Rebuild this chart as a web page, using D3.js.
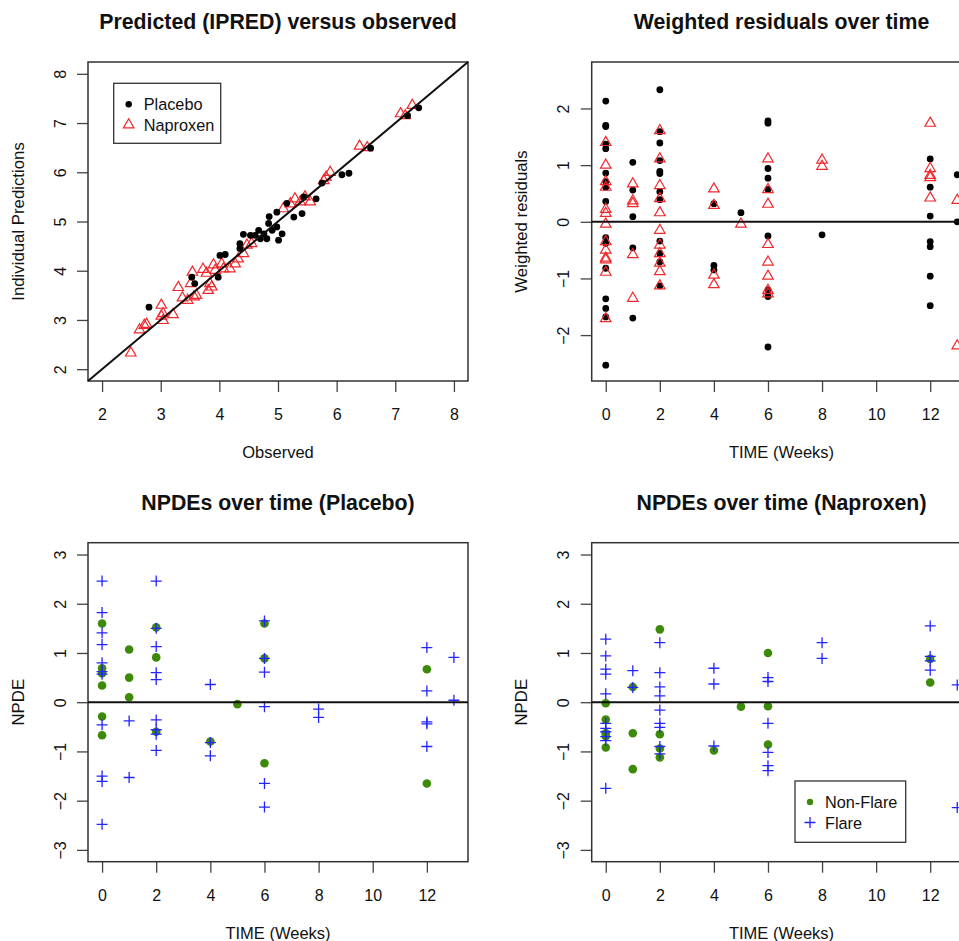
<!DOCTYPE html>
<html>
<head>
<meta charset="utf-8">
<script src="https://cdn.jsdelivr.net/npm/d3@7"></script>
<style>
  body { margin: 0; background: #fff; }
  text { font-family: "Liberation Sans", Arial, sans-serif; fill: #111; }
</style>
</head>
<body>
<svg id="chart" width="959" height="941"></svg>
<script>
// Panel 1: observed vs individual predictions
const placeboObs = [2.80, 3.53, 3.58, 3.98, 4.01, 4.10, 4.35, 4.41, 4.35, 4.61, 4.67, 4.76, 4.84, 4.85, 4.90, 4.98, 5.01, 5.07, 4.98, 4.70, 4.81, 4.53, 5.15, 5.27, 5.41, 5.44, 5.65, 5.75, 6.09, 6.21, 6.58, 7.21, 7.40];
const placeboIpred = [3.26, 3.87, 3.74, 3.87, 4.31, 4.33, 4.55, 4.74, 4.45, 4.72, 4.82, 4.75, 4.96, 5.10, 4.82, 4.89, 4.62, 4.75, 5.19, 4.65, 4.65, 4.72, 5.37, 5.09, 5.16, 5.50, 5.46, 5.78, 5.95, 5.98, 6.49, 7.15, 7.31];
const naproxenObs = [2.49, 2.64, 2.72, 2.76, 3.01, 3.01, 3.04, 3.04, 3.21, 3.30, 3.37, 3.46, 3.54, 3.51, 3.57, 3.61, 3.72, 3.78, 3.81, 3.84, 3.87, 3.90, 3.93, 4.04, 4.07, 4.18, 4.27, 4.32, 4.41, 4.47, 4.55, 5.09, 5.21, 5.29, 5.38, 5.46, 5.55, 5.78, 5.82, 5.89, 6.39, 6.52, 7.09, 7.17, 7.29];
const naproxenIpred = [2.33, 2.80, 2.89, 2.91, 3.30, 3.08, 2.99, 3.13, 3.11, 3.66, 3.45, 3.40, 3.97, 3.74, 3.47, 3.50, 4.03, 3.95, 3.60, 3.74, 3.67, 4.12, 4.01, 4.14, 4.04, 4.04, 4.14, 4.24, 4.35, 4.52, 4.55, 5.26, 5.36, 5.46, 5.40, 5.50, 5.40, 5.83, 5.90, 6.00, 6.53, 6.50, 7.19, 7.15, 7.36];

// Panel 2: weighted residuals over time
const wresPlaceboTime = [0, 0, 0, 0, 0, 0, 0, 0, 0, 0, 0, 0, 0, 0, 0, 0, 1, 1, 1, 1, 1, 2, 2, 2, 2, 2, 2, 2, 2, 2, 2, 2, 2, 4, 4, 4, 5, 6, 6, 6, 6, 6, 6, 6, 6, 6, 8, 12, 12, 12, 12, 12, 12, 12, 13, 13];
const wresPlacebo = [2.13, 1.70, 1.68, 1.37, 1.29, 0.86, 0.71, 0.61, 0.36, -0.28, -0.38, -0.82, -1.36, -1.53, -1.68, -2.53, 1.05, 0.56, 0.09, -0.46, -1.70, 2.33, 1.59, 1.39, 1.08, 0.89, 0.85, 0.53, 0.39, -0.34, -0.56, -0.71, -1.13, 0.32, -0.77, -0.85, 0.16, 1.78, 1.74, 0.94, 0.77, 0.57, -0.25, -1.20, -1.32, -2.21, -0.23, 1.11, 0.61, 0.10, -0.35, -0.44, -0.96, -1.48, 0.83, 0.00];
const wresNaproxenTime = [0, 0, 0, 0, 0, 0, 0, 0, 0, 0, 0, 0, 0, 1, 1, 1, 1, 1, 2, 2, 2, 2, 2, 2, 2, 2, 2, 2, 2, 4, 4, 4, 4, 5, 6, 6, 6, 6, 6, 6, 6, 6, 8, 8, 12, 12, 12, 12, 12, 13, 13];
const wresNaproxen = [1.40, 1.00, 0.71, 0.61, 0.22, 0.15, -0.04, -0.35, -0.50, -0.64, -0.67, -0.89, -1.71, 0.67, 0.37, 0.32, -0.58, -1.35, 1.61, 1.11, 0.64, 0.41, 0.16, -0.15, -0.41, -0.56, -0.73, -0.88, -1.13, 0.58, 0.29, -0.94, -1.11, -0.04, 1.11, 0.57, 0.31, -0.40, -0.71, -0.96, -1.21, -1.27, 1.09, 0.98, 1.74, 0.94, 0.82, 0.78, 0.42, 0.38, -2.19];

// Panel 3: NPDE placebo
const npdePlaceboNonFlareTime = [0, 0, 0, 0, 0, 0, 1, 1, 1, 2, 2, 2, 4, 5, 6, 6, 6, 12, 12];
const npdePlaceboNonFlare = [1.60, 0.69, 0.59, 0.34, -0.29, -0.67, 1.07, 0.50, 0.10, 1.52, 0.91, -0.60, -0.80, -0.04, 1.60, 0.89, -1.24, 0.67, -1.65];
const npdePlaceboFlareTime = [0, 0, 0, 0, 0, 0, 0, 0, 0, 0, 0, 1, 1, 2, 2, 2, 2, 2, 2, 2, 2, 2, 4, 4, 4, 6, 6, 6, 6, 6, 6, 8, 8, 12, 12, 12, 12, 12, 13, 13];
const npdePlaceboFlare = [2.46, 1.82, 1.41, 1.17, 0.80, 0.62, 0.57, -0.46, -1.50, -1.61, -2.48, -0.38, -1.53, 2.46, 1.50, 1.13, 0.60, 0.46, -0.36, -0.56, -0.65, -0.98, 0.36, -0.82, -1.09, 1.65, 0.89, 0.61, -0.09, -1.65, -2.13, -0.14, -0.31, 1.11, 0.23, -0.40, -0.44, -0.90, 0.91, 0.04];

// Panel 4: NPDE naproxen
const npdeNaproxenNonFlareTime = [0, 0, 0, 0, 0, 1, 1, 1, 2, 2, 2, 2, 4, 5, 6, 6, 6, 12, 12];
const npdeNaproxenNonFlare = [-0.02, -0.35, -0.63, -0.69, -0.92, 0.31, -0.63, -1.36, 1.48, -0.65, -0.94, -1.12, -0.98, -0.09, 1.00, -0.08, -0.86, 0.88, 0.40];
const npdeNaproxenFlareTime = [0, 0, 0, 0, 0, 0, 0, 0, 0, 0, 0, 1, 1, 2, 2, 2, 2, 2, 2, 2, 2, 2, 4, 4, 4, 6, 6, 6, 6, 6, 6, 8, 8, 12, 12, 12, 12, 13, 13];
const npdeNaproxenFlare = [1.28, 0.94, 0.67, 0.57, 0.17, -0.43, -0.53, -0.60, -0.70, -0.78, -1.75, 0.64, 0.30, 1.21, 0.60, 0.31, 0.13, -0.16, -0.43, -0.51, -0.90, -1.05, 0.69, 0.37, -0.89, 0.50, 0.42, -0.43, -1.02, -1.29, -1.39, 1.21, 0.89, 1.55, 0.93, 0.84, 0.65, 0.35, -2.14];

const timeTicks = [0, 2, 4, 6, 8, 10, 12];
const obsTicks = [2, 3, 4, 5, 6, 7, 8];
const wresTicks = [-2, -1, 0, 1, 2];
const npdeTicks = [-3, -2, -1, 0, 1, 2, 3];

const RED = '#f0282c';
const BLUE = '#2424ff';
const GREEN = '#3d8a08';

const svg = d3.select('#chart');

const zip = (xs, ys) => xs.map((x, i) => [x, ys[i]]);

const triangle = d3.symbol().type(d3.symbolTriangle).size(48);
const plusPath = 'M-5.5,0H5.5M0,-5.5V5.5';

/**
 * draws one R-style base graphics panel and returns its scales
 */
const createPanel = ({ left, top, width, height, xDomain, yDomain, xTicks, yTicks, title, xLabel, yLabel }) => {
    const g = svg.append('g').attr('transform', `translate(${left},${top})`);
    const x = d3.scaleLinear().domain(xDomain).range([0, width]);
    const y = d3.scaleLinear().domain(yDomain).range([height, 0]);

    const xAxis = g
        .append('g')
        .attr('transform', `translate(0,${height})`)
        .call(d3.axisBottom(x).tickValues(xTicks).tickFormat(d3.format('d')).tickSize(11).tickSizeOuter(0).tickPadding(17));
    const yAxis = g
        .append('g')
        .call(d3.axisLeft(y).tickValues(yTicks).tickFormat(d3.format('d')).tickSize(11).tickSizeOuter(0));

    [xAxis, yAxis].forEach((ax) => {
        ax.select('.domain').remove();
        ax.selectAll('line').attr('stroke', '#444').attr('stroke-width', 1.3);
        ax.selectAll('text').style('font-size', '16px').attr('fill', '#111');
    });
    yAxis
        .selectAll('text')
        .attr('x', null)
        .attr('dy', null)
        .attr('text-anchor', 'middle')
        .attr('dominant-baseline', 'central')
        .attr('transform', 'translate(-28,0) rotate(-90)');

    g.append('rect')
        .attr('width', width)
        .attr('height', height)
        .attr('fill', 'none')
        .attr('stroke', '#333')
        .attr('stroke-width', 1.5);

    svg.append('text')
        .attr('x', left + width / 2)
        .attr('y', top - 33)
        .attr('text-anchor', 'middle')
        .style('font-size', '21.3px')
        .style('font-weight', 'bold')
        .text(title);

    svg.append('text')
        .attr('x', left + width / 2)
        .attr('y', top + height + 77)
        .attr('text-anchor', 'middle')
        .style('font-size', '16.5px')
        .text(xLabel);

    svg.append('text')
        .attr('transform', `translate(${left - 70},${top + height / 2}) rotate(-90)`)
        .attr('text-anchor', 'middle')
        .attr('dominant-baseline', 'central')
        .style('font-size', '16.8px')
        .text(yLabel);

    const marks = g.append('g');
    return { g, marks, x, y, width };
};

const drawDots = (panel, pts, color, r) => {
    panel.marks
        .selectAll(null)
        .data(pts)
        .join('circle')
        .attr('cx', (d) => panel.x(d[0]))
        .attr('cy', (d) => panel.y(d[1]))
        .attr('r', r)
        .attr('fill', color);
};

const drawTriangles = (panel, pts) => {
    panel.marks
        .selectAll(null)
        .data(pts)
        .join('path')
        .attr('d', triangle)
        .attr('transform', (d) => `translate(${panel.x(d[0])},${panel.y(d[1])})`)
        .attr('fill', 'none')
        .attr('stroke', RED)
        .attr('stroke-width', 1.2);
};

const drawPlus = (panel, pts) => {
    panel.marks
        .selectAll(null)
        .data(pts)
        .join('path')
        .attr('d', plusPath)
        .attr('transform', (d) => `translate(${panel.x(d[0])},${panel.y(d[1])})`)
        .attr('fill', 'none')
        .attr('stroke', BLUE)
        .attr('stroke-width', 1.3);
};

const drawZeroLine = (panel) => {
    panel.g
        .append('line')
        .attr('x1', 0)
        .attr('x2', panel.width)
        .attr('y1', panel.y(0))
        .attr('y2', panel.y(0))
        .attr('stroke', '#111')
        .attr('stroke-width', 2);
};

const drawLegend = ({ left, top, width, height, items }) => {
    const lg = svg.append('g').attr('transform', `translate(${left},${top})`);
    lg.append('rect')
        .attr('width', width)
        .attr('height', height)
        .attr('fill', '#fff')
        .attr('stroke', '#333')
        .attr('stroke-width', 1.3);
    items.forEach((item, i) => {
        const cy = 21 + i * 20.5;
        const sym = lg.append('g').attr('transform', `translate(15,${cy})`);
        if (item.shape === 'dot') {
            sym.append('circle').attr('r', 3.2).attr('fill', item.color);
        } else if (item.shape === 'triangle') {
            sym.append('path').attr('d', triangle).attr('fill', 'none').attr('stroke', item.color).attr('stroke-width', 1.2);
        } else {
            sym.append('path').attr('d', plusPath).attr('fill', 'none').attr('stroke', item.color).attr('stroke-width', 1.3);
        }
        lg.append('text')
            .attr('x', 30)
            .attr('y', cy)
            .attr('dominant-baseline', 'central')
            .style('font-size', '16.3px')
            .text(item.label);
    });
};

// top-left
const p1 = createPanel({
    left: 88, top: 62, width: 380, height: 319,
    xDomain: [1.76, 8.24], yDomain: [1.76, 8.24],
    xTicks: obsTicks, yTicks: obsTicks,
    title: 'Predicted (IPRED) versus observed',
    xLabel: 'Observed', yLabel: 'Individual Predictions'
});
p1.g.append('line')
    .attr('x1', p1.x(1.76)).attr('y1', p1.y(1.76))
    .attr('x2', p1.x(8.24)).attr('y2', p1.y(8.24))
    .attr('stroke', '#111').attr('stroke-width', 2);
drawTriangles(p1, zip(naproxenObs, naproxenIpred));
drawDots(p1, zip(placeboObs, placeboIpred), '#000', 3.4);
drawLegend({
    left: 113.7, top: 83.3, width: 107, height: 60,
    items: [
        { shape: 'dot', color: '#000', label: 'Placebo' },
        { shape: 'triangle', color: RED, label: 'Naproxen' }
    ]
});

// top-right
const p2 = createPanel({
    left: 591.7, top: 62, width: 379.6, height: 319,
    xDomain: [-0.52, 13.52], yDomain: [-2.81, 2.82],
    xTicks: timeTicks, yTicks: wresTicks,
    title: 'Weighted residuals over time',
    xLabel: 'TIME (Weeks)', yLabel: 'Weighted residuals'
});
drawZeroLine(p2);
drawDots(p2, zip(wresPlaceboTime, wresPlacebo), '#000', 3.4);
drawTriangles(p2, zip(wresNaproxenTime, wresNaproxen));

// bottom-left
const p3 = createPanel({
    left: 88, top: 542.7, width: 380, height: 319,
    xDomain: [-0.52, 13.52], yDomain: [-3.24, 3.24],
    xTicks: timeTicks, yTicks: npdeTicks,
    title: 'NPDEs over time (Placebo)',
    xLabel: 'TIME (Weeks)', yLabel: 'NPDE'
});
drawZeroLine(p3);
drawDots(p3, zip(npdePlaceboNonFlareTime, npdePlaceboNonFlare), GREEN, 4.3);
drawPlus(p3, zip(npdePlaceboFlareTime, npdePlaceboFlare));

// bottom-right
const p4 = createPanel({
    left: 591.7, top: 542.7, width: 379.6, height: 319,
    xDomain: [-0.52, 13.52], yDomain: [-3.24, 3.24],
    xTicks: timeTicks, yTicks: npdeTicks,
    title: 'NPDEs over time (Naproxen)',
    xLabel: 'TIME (Weeks)', yLabel: 'NPDE'
});
drawZeroLine(p4);
drawDots(p4, zip(npdeNaproxenNonFlareTime, npdeNaproxenNonFlare), GREEN, 4.3);
drawPlus(p4, zip(npdeNaproxenFlareTime, npdeNaproxenFlare));
drawLegend({
    left: 795, top: 781, width: 110.7, height: 61.3,
    items: [
        { shape: 'dot', color: GREEN, label: 'Non-Flare' },
        { shape: 'plus', color: BLUE, label: 'Flare' }
    ]
});
</script>
</body>
</html>
